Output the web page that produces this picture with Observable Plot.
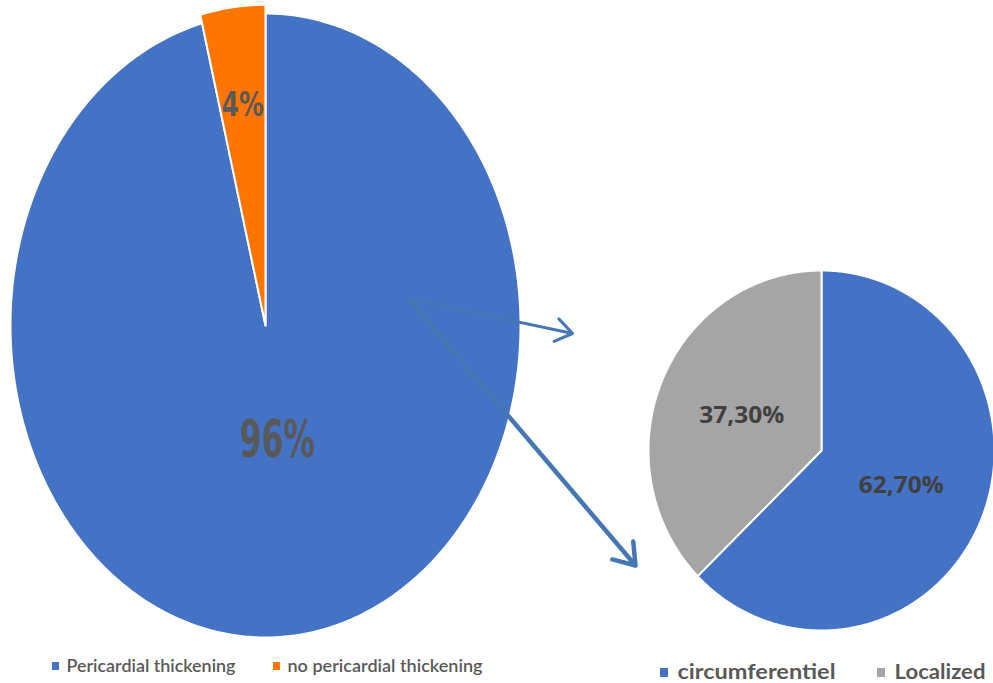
<!DOCTYPE html>
<html><head><meta charset="utf-8">
<script src="https://cdn.jsdelivr.net/npm/d3@7"></script>
<script src="https://cdn.jsdelivr.net/npm/@observablehq/plot@0.6"></script>
<style>body{margin:0;background:#fff;}</style>
</head><body><div id="chart"></div>
<script>
// ---- data ----
const mainCategories = ["Pericardial thickening", "no pericardial thickening"];
const mainValues = [96, 4];
const mainLabels = ["96%", "4%"];
const subCategories = ["circumferentiel", "Localized"];
const subValues = [62.7, 37.3];
const subLabels = ["62,70%", "37,30%"];
const colorDomain = ["Pericardial thickening", "no pericardial thickening", "circumferentiel", "Localized"];
const colorRange = ["#4472C4", "#FF7500", "#4472C4", "#A5A5A5"];

// ---- layout ----
const W = 993, H = 683;
const mainPie = {cx: 265, cy: 325, rx: 255, ry: 312, explode: [1, 1.028], labelR: [0.37, 0.71],
  fontSize: [52, 33], widths: [75, 42]};
const subPie = {cx: 821, cy: 450, rx: 173, ry: 180, explode: [1, 1], labelR: [0.5, 0.5],
  fontSize: [24, 24], widths: [85, 85]};

function buildPie(cats, vals, labels, P) {
  const arcs = d3.pie().sort(null)(vals);
  const pts = [], labs = [];
  arcs.forEach((a, i) => {
    const k = P.explode[i];
    pts.push({cat: cats[i], x: P.cx, y: P.cy});
    const n = Math.max(4, Math.ceil((a.endAngle - a.startAngle) / 0.01));
    for (let j = 0; j <= n; j++) {
      const t = a.startAngle + (a.endAngle - a.startAngle) * j / n;
      pts.push({cat: cats[i], x: P.cx + P.rx * k * Math.sin(t), y: P.cy - P.ry * k * Math.cos(t)});
    }
    const m = (a.startAngle + a.endAngle) / 2;
    labs.push({text: labels[i], x: P.cx + P.rx * P.labelR[i] * Math.sin(m), y: P.cy - P.ry * P.labelR[i] * Math.cos(m),
      size: P.fontSize[i], w: P.widths[i]});
  });
  return {pts, labs};
}
const main = buildPie(mainCategories, mainValues, mainLabels, mainPie);
const sub = buildPie(subCategories, subValues, subLabels, subPie);

const legendMain = [{cat: mainCategories[0], x: 52, y: 666, w: 169}, {cat: mainCategories[1], x: 273, y: 666, w: 195}];
const legendSub = [{cat: subCategories[0], x: 660, y: 672, w: 158}, {cat: subCategories[1], x: 877, y: 672, w: 91}];

const arrowColor = "#4677B5";
const arrows = [
  {x1: 408, y1: 298, x2: 572, y2: 333, w: 3, h: 10},
  {x1: 408, y1: 298, x2: 635, y2: 565, w: 4.5, h: 8}
];

const chart = Plot.plot({
  width: W, height: H, margin: 0,
  x: {domain: [0, W], range: [0, W], axis: null},
  y: {domain: [0, H], range: [0, H], axis: null},
  color: {domain: colorDomain, range: colorRange},
  style: {background: "white"},
  marks: [
    Plot.line(main.pts, {x: "x", y: "y", z: "cat", fill: "cat", stroke: "white", strokeWidth: 2, curve: "linear-closed"}),
    Plot.line(sub.pts, {x: "x", y: "y", z: "cat", fill: "cat", stroke: "white", strokeWidth: 2, curve: "linear-closed"}),
    Plot.text(main.labs, {x: "x", y: "y", text: "text", fontSize: d => d.size, fontWeight: "bold", fill: "#595959",
      fontFamily: "'DejaVu Sans Condensed','DejaVu Sans',sans-serif", className: "fit-main"}),
    Plot.text(sub.labs, {x: "x", y: "y", text: "text", fontSize: 24, fontWeight: "bold", fill: "#404040",
      fontFamily: "'Open Sans', sans-serif", className: "fit-sub"}),
    ...arrows.map(a => Plot.arrow([a], {x1: "x1", y1: "y1", x2: "x2", y2: "y2", stroke: arrowColor, strokeWidth: a.w, headLength: a.h, headAngle: 70})),
    Plot.rect(legendMain, {x1: d => d.x, x2: d => d.x + 7, y1: d => d.y - 4, y2: d => d.y + 4, fill: "cat"}),
    Plot.text(legendMain, {x: d => d.x + 14, y: "y", text: "cat", textAnchor: "start", fontSize: 18, fontWeight: 600,
      fill: "#595959", fontFamily: "Lato, sans-serif", className: "fit-legm"}),
    Plot.rect(legendSub, {x1: d => d.x, x2: d => d.x + 8, y1: d => d.y - 4, y2: d => d.y + 5, fill: "cat"}),
    Plot.text(legendSub, {x: d => d.x + 17, y: "y", text: "cat", textAnchor: "start", fontSize: 20, fontWeight: "bold",
      fill: "#595959", fontFamily: "Lato, sans-serif", className: "fit-legs"})
  ]
});
// fit text widths to the reference's condensed look
function fit(cls, arr) {
  d3.select(chart).selectAll("g." + cls + " text").each(function(_, i) {
    if (arr[i] && arr[i].w) { this.setAttribute("textLength", arr[i].w); this.setAttribute("lengthAdjust", "spacingAndGlyphs"); }
  });
}
fit("fit-main", main.labs);
fit("fit-sub", sub.labs);
fit("fit-legm", legendMain);
fit("fit-legs", legendSub);
document.getElementById("chart").appendChild(chart);
</script>
</body></html>
